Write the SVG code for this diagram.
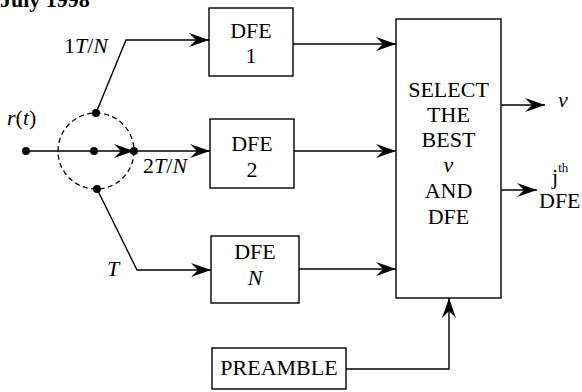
<svg xmlns="http://www.w3.org/2000/svg" width="582" height="392" viewBox="0 0 582 392">
  <style>
    .box { fill: #fff; stroke: #000; stroke-width: 1.4; }
    .wire { fill: none; stroke: #000; stroke-width: 1.4; }
    .arr { marker-end: url(#head); }
    text { font-family: "Liberation Serif", "Times New Roman", serif; font-size: 22px; fill: #000; }
    .c { text-anchor: middle; }
    .i { font-style: italic; }
    .dot { fill: #000; }
  </style>
  <defs>
    <marker id="head" markerUnits="userSpaceOnUse" viewBox="-20 -7 20 14" refX="0" refY="0" markerWidth="20" markerHeight="14" orient="auto">
      <path d="M0,0 L-20,-7 L-13,0 L-20,7 Z" fill="#000"/>
    </marker>
  </defs>

  <text x="0" y="7" font-weight="bold" font-size="27">July 1998</text>

  <!-- Connectors -->
  <g id="connectors">
    <!-- sampling switch -->
    <circle cx="96" cy="151" r="38" fill="none" stroke="#000" stroke-width="1.3" stroke-dasharray="5,3.5"/>
    <line class="wire arr" x1="26" y1="151" x2="134" y2="151"/>
    <line class="wire arr" x1="134" y1="151" x2="210" y2="151"/>
    <polyline class="wire arr" points="96,113 126,40 209,40"/>
    <polyline class="wire arr" points="97,189 137,270 211,270"/>
    <!-- equalizer outputs -->
    <line class="wire arr" x1="293" y1="44" x2="396" y2="44"/>
    <line class="wire arr" x1="294" y1="151" x2="396" y2="151"/>
    <line class="wire arr" x1="299" y1="269" x2="396" y2="269"/>
    <!-- preamble feed -->
    <polyline class="wire arr" points="346,369 449,369 449,298"/>
    <!-- selector outputs -->
    <line class="wire arr" x1="501" y1="105" x2="545" y2="105"/>
    <line class="wire arr" x1="501" y1="190" x2="537" y2="190"/>
    <!-- junction dots -->
    <circle class="dot" cx="26" cy="151" r="4"/>
    <circle class="dot" cx="94" cy="151" r="4"/>
    <circle class="dot" cx="134" cy="151" r="4"/>
    <circle class="dot" cx="96" cy="113" r="4"/>
    <circle class="dot" cx="97" cy="189" r="4"/>
  </g>

  <!-- Branch labels -->
  <text x="108" y="53" text-anchor="end">1<tspan class="i">T</tspan>/<tspan class="i">N</tspan></text>
  <text x="7" y="125"><tspan class="i">r</tspan>(<tspan class="i">t</tspan>)</text>
  <text x="143" y="173">2<tspan class="i">T</tspan>/<tspan class="i">N</tspan></text>
  <text x="107" y="276" class="i">T</text>

  <g id="dfe1">
    <rect class="box" x="209" y="8" width="84" height="68"/>
    <text class="c" x="251" y="38">DFE</text>
    <text class="c" x="251" y="63">1</text>
  </g>

  <g id="dfe2">
    <rect class="box" x="210" y="119" width="84" height="69"/>
    <text class="c" x="252" y="151">DFE</text>
    <text class="c" x="252" y="177">2</text>
  </g>

  <g id="dfeN">
    <rect class="box" x="211" y="236" width="88" height="67"/>
    <text class="c" x="255" y="259">DFE</text>
    <text class="c i" x="255" y="285">N</text>
  </g>

  <g id="selector">
    <rect class="box" x="396" y="19" width="105" height="279"/>
    <text class="c" x="448.5" y="97">SELECT</text>
    <text class="c" x="448.5" y="122">THE</text>
    <text class="c" x="448.5" y="147">BEST</text>
    <text class="c i" x="448.5" y="172">v</text>
    <text class="c" x="448.5" y="198">AND</text>
    <text class="c" x="448.5" y="224">DFE</text>
  </g>

  <g id="preamble">
    <rect class="box" x="212" y="348" width="134" height="41"/>
    <text class="c" x="279" y="375">PREAMBLE</text>
  </g>

  <!-- Selector output labels -->
  <text x="558" y="107" class="i">v</text>
  <text x="552" y="184">j<tspan font-size="13" dy="-12">th</tspan></text>
  <text x="539" y="208">DFE</text>
</svg>
